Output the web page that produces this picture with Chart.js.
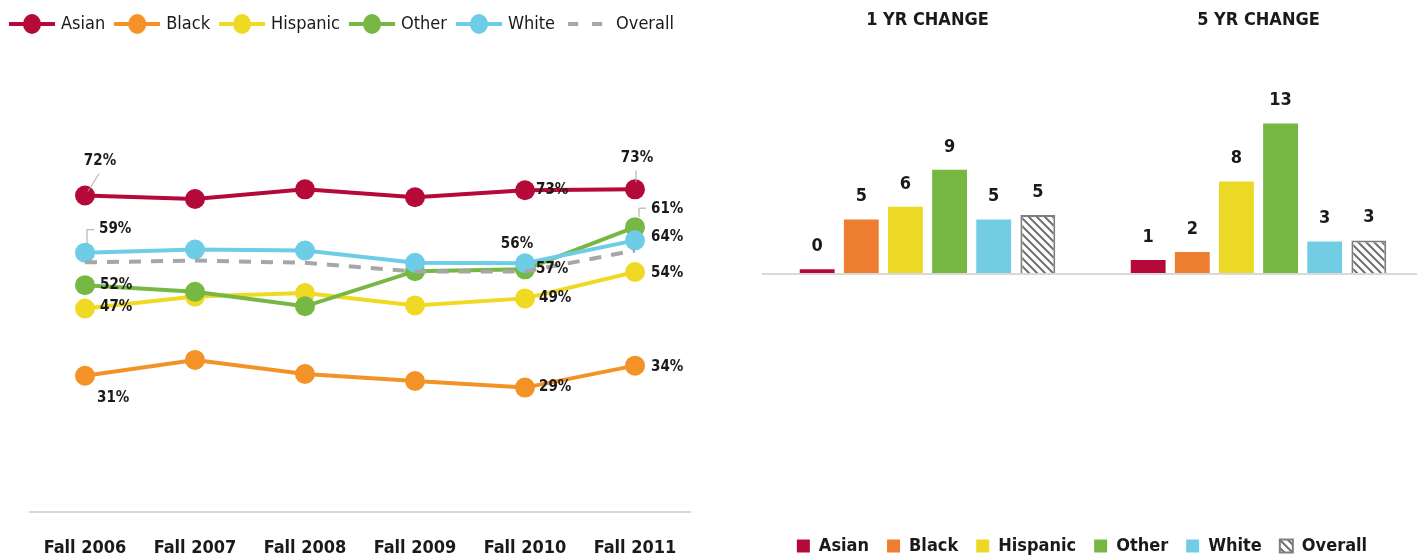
<!DOCTYPE html>
<html>
<head>
<meta charset="utf-8">
<script src="https://cdn.jsdelivr.net/npm/chart.js@4.4.0/dist/chart.umd.min.js"></script>
<style>
html, body { margin: 0; padding: 0; background: #fff; overflow: hidden; }
#lineWrap { position: absolute; left: 0; top: 0; width: 700px; height: 559px; }
#barWrap { position: absolute; left: 700px; top: 0; width: 724px; height: 559px; }
</style>
</head>
<body>
<div id="lineWrap"><canvas id="trendChart"></canvas></div>
<div id="barWrap"><canvas id="changeChart"></canvas></div>
<script>
// Dữ liệu
const years = ['Fall 2006', 'Fall 2007', 'Fall 2008', 'Fall 2009', 'Fall 2010', 'Fall 2011'];
const seriesNames = ['Asian', 'Black', 'Hispanic', 'Other', 'White', 'Overall'];

const asian = [72, 71.2, 73.4, 71.6, 73.2, 73.4];
const black = [31, 34.6, 31.4, 29.8, 28.3, 33.3];
const hispanic = [46.3, 49, 49.8, 47, 48.6, 54.6];
const other = [51.6, 50.1, 46.8, 54.8, 55.2, 64.8];
const white = [59, 59.7, 59.5, 56.7, 56.6, 61.8];
const overall = [56.8, 57.2, 56.7, 54.7, 54.7, 59.5];

// nhãn in trên biểu đồ
const asianLabels = ['72%', '', '', '', '73%', '73%'];
const blackLabels = ['31%', '', '', '', '29%', '34%'];
const hispanicLabels = ['47%', '', '', '', '49%', '54%'];
const otherLabels = ['52%', '', '', '', '57%', '61%'];
const whiteLabels = ['59%', '', '', '', '56%', '64%'];

const changeGroups = ['1 YR CHANGE', '5 YR CHANGE'];
const oneYear = [0.4, 4.7, 5.8, 9.0, 4.7, 5.1];
const fiveYear = [1.2, 1.9, 8.0, 13.0, 2.8, 2.9];

const FONT = "'DejaVu Sans Condensed', 'Liberation Sans', sans-serif";
const lineColors = ['#b5093a', '#f39226', '#efd923', '#76b843', '#6dcde6', '#a6a6a6'];
const barColors = ['#b5093a', '#ed7d31', '#ecd925', '#76b743', '#72cde4'];

// vị trí nhãn: dx, dy, canh lề, đường dẫn
const placement = {
    0: { 0: { dx: 15, dy: -34, align: 'center', leader: [[3, -4], [14, -22]] },
         4: { dx: 11, dy: 0, align: 'left' },
         5: { dx: 2, dy: -31, align: 'center', leader: [[1, -7], [1, -19]] } },
    1: { 0: { dx: 12, dy: 22, align: 'left' },
         4: { dx: 14, dy: 0, align: 'left' },
         5: { dx: 16, dy: 1, align: 'left' } },
    2: { 0: { dx: 15, dy: -1, align: 'left' },
         4: { dx: 14, dy: 0, align: 'left' },
         5: { dx: 16, dy: 1, align: 'left' } },
    3: { 0: { dx: 15, dy: 0, align: 'left' },
         4: { dx: 11, dy: 0, align: 'left' },
         5: { dx: 16, dy: -18, align: 'left', leader: [[4, -10], [4, -19], [11, -19]] } },
    4: { 0: { dx: 14, dy: -24, align: 'left', leader: [[2, -9], [2, -23], [9, -23]] },
         4: { dx: -8, dy: -19, align: 'center' },
         5: { dx: 16, dy: -3, align: 'left' } }
};
const allLabels = [asianLabels, blackLabels, hispanicLabels, otherLabels, whiteLabels];

function lineIcon(color, dashed) {
    const c = document.createElement('canvas');
    c.width = 46; c.height = 22;
    const g = c.getContext('2d');
    g.strokeStyle = color;
    g.lineWidth = 4;
    if (dashed) g.setLineDash([10, 14]);
    g.beginPath();
    g.moveTo(dashed ? 4 : 0, 11);
    g.lineTo(46, 11);
    g.stroke();
    if (!dashed) {
        g.fillStyle = color;
        g.beginPath();
        g.ellipse(23, 11, 9, 10, 0, 0, Math.PI * 2);
        g.fill();
    }
    return c;
}

function hatch() {
    const c = document.createElement('canvas');
    c.width = 8; c.height = 8;
    const g = c.getContext('2d');
    g.fillStyle = '#fff';
    g.fillRect(0, 0, 8, 8);
    g.strokeStyle = '#707070';
    g.lineWidth = 2;
    g.beginPath();
    g.moveTo(-4, -4); g.lineTo(12, 12);
    g.moveTo(-4, 4); g.lineTo(4, 12);
    g.moveTo(4, -4); g.lineTo(12, 4);
    g.stroke();
    return g.createPattern(c, 'repeat');
}

const lineLabelPlugin = {
    id: 'lineLabels',
    afterDatasetsDraw(chart) {
        const ctx = chart.ctx;
        ctx.save();
        ctx.font = 'bold 15px ' + FONT;
        ctx.textBaseline = 'middle';
        allLabels.forEach((labels, s) => {
            const meta = chart.getDatasetMeta(s);
            labels.forEach((txt, i) => {
                if (!txt) return;
                const p = meta.data[i];
                const pl = placement[s][i];
                if (pl.leader) {
                    ctx.strokeStyle = '#a6a6a6';
                    ctx.lineWidth = 1;
                    ctx.beginPath();
                    pl.leader.forEach((pt, k) => {
                        if (k === 0) ctx.moveTo(p.x + pt[0], p.y + pt[1]);
                        else ctx.lineTo(p.x + pt[0], p.y + pt[1]);
                    });
                    ctx.stroke();
                }
                ctx.fillStyle = '#1a1a1a';
                ctx.textAlign = pl.align;
                ctx.fillText(txt, p.x + pl.dx, p.y + pl.dy);
            });
        });
        ctx.restore();
    }
};

const barLabelPlugin = {
    id: 'barLabels',
    afterDatasetsDraw(chart) {
        const ctx = chart.ctx;
        ctx.save();
        ctx.font = 'bold 18px ' + FONT;
        ctx.fillStyle = '#1a1a1a';
        ctx.textAlign = 'center';
        ctx.textBaseline = 'middle';
        chart.data.datasets.forEach((ds, s) => {
            chart.getDatasetMeta(s).data.forEach((bar, i) => {
                ctx.fillText(String(Math.round(ds.data[i])), bar.x, bar.y - 23);
            });
        });
        ctx.restore();
    }
};

// Biểu đồ đường
const lineData = [asian, black, hispanic, other, white, overall];
const lineSets = lineData.map((d, i) => ({
    label: seriesNames[i],
    data: d,
    borderColor: lineColors[i],
    backgroundColor: lineColors[i],
    borderWidth: 4,
    borderDash: i === 5 ? [12, 10] : [],
    pointRadius: i === 5 ? 0 : 10,
    pointHoverRadius: i === 5 ? 0 : 10,
    pointBorderWidth: 0,
    order: 5 - i
}));
const icons = lineColors.map((c, i) => lineIcon(c, i === 5));

new Chart(document.getElementById('trendChart'), {
    type: 'line',
    data: { labels: years, datasets: lineSets },
    options: {
        responsive: true,
        maintainAspectRatio: false,
        animation: false,
        layout: { padding: { top: 3, left: 0, right: 9, bottom: 0 } },
        plugins: {
            legend: {
                display: true,
                align: 'start',
                labels: {
                    usePointStyle: true,
                    pointStyleWidth: 40,
                    padding: 12,
                    color: '#1a1a1a',
                    font: { family: FONT, size: 18 },
                    sort: (a, b) => a.datasetIndex - b.datasetIndex,
                    generateLabels: (chart) => {
                        const items = Chart.defaults.plugins.legend.labels.generateLabels(chart);
                        items.forEach(it => { it.pointStyle = icons[it.datasetIndex]; });
                        return items;
                    }
                }
            },
            tooltip: { enabled: false }
        },
        scales: {
            x: {
                offset: true,
                grid: { display: false },
                border: { color: '#d9d9d9', width: 2 },
                ticks: { color: '#1a1a1a', padding: 18, font: { family: FONT, size: 18, weight: 'bold' } },
                afterFit: (s) => { s.height = 47; }
            },
            y: {
                min: 0,
                max: 106.7,
                grid: { display: false },
                border: { display: false },
                ticks: { display: false },
                afterFit: (s) => { s.width = 30; }
            }
        }
    },
    plugins: [lineLabelPlugin]
});

// Biểu đồ cột
const barSets = seriesNames.map((name, i) => ({
    label: name,
    data: [oneYear[i], fiveYear[i]],
    backgroundColor: i === 5 ? hatch() : barColors[i],
    borderColor: i === 5 ? '#7f7f7f' : barColors[i],
    borderWidth: i === 5 ? 2 : 0,
    categoryPercentage: 0.8,
    barPercentage: 0.79
}));

new Chart(document.getElementById('changeChart'), {
    type: 'bar',
    data: { labels: changeGroups, datasets: barSets },
    options: {
        responsive: true,
        maintainAspectRatio: false,
        animation: false,
        layout: { padding: { top: 0, left: 40, right: 0, bottom: -6 } },
        plugins: {
            legend: {
                display: true,
                position: 'bottom',
                labels: {
                    boxWidth: 13,
                    boxHeight: 13,
                    padding: 18,
                    color: '#1a1a1a',
                    font: { family: FONT, size: 18, weight: 'bold' }
                }
            },
            tooltip: { enabled: false }
        },
        scales: {
            x: {
                position: 'top',
                grid: { display: false },
                border: { display: false },
                ticks: { color: '#1a1a1a', padding: 6, font: { family: FONT, size: 18, weight: 'bold' } },
                afterFit: (s) => { s.height = 45; }
            },
            y: {
                min: -21.2,
                max: 19.8,
                grid: {
                    drawTicks: false,
                    color: (c) => c.tick && c.tick.value === 0 ? '#d9d9d9' : 'transparent',
                    lineWidth: 2
                },
                border: { display: false },
                ticks: { display: false, stepSize: 0.2 },
                afterFit: (s) => { s.width = 22; }
            }
        }
    },
    plugins: [barLabelPlugin]
});
</script>
</body>
</html>
